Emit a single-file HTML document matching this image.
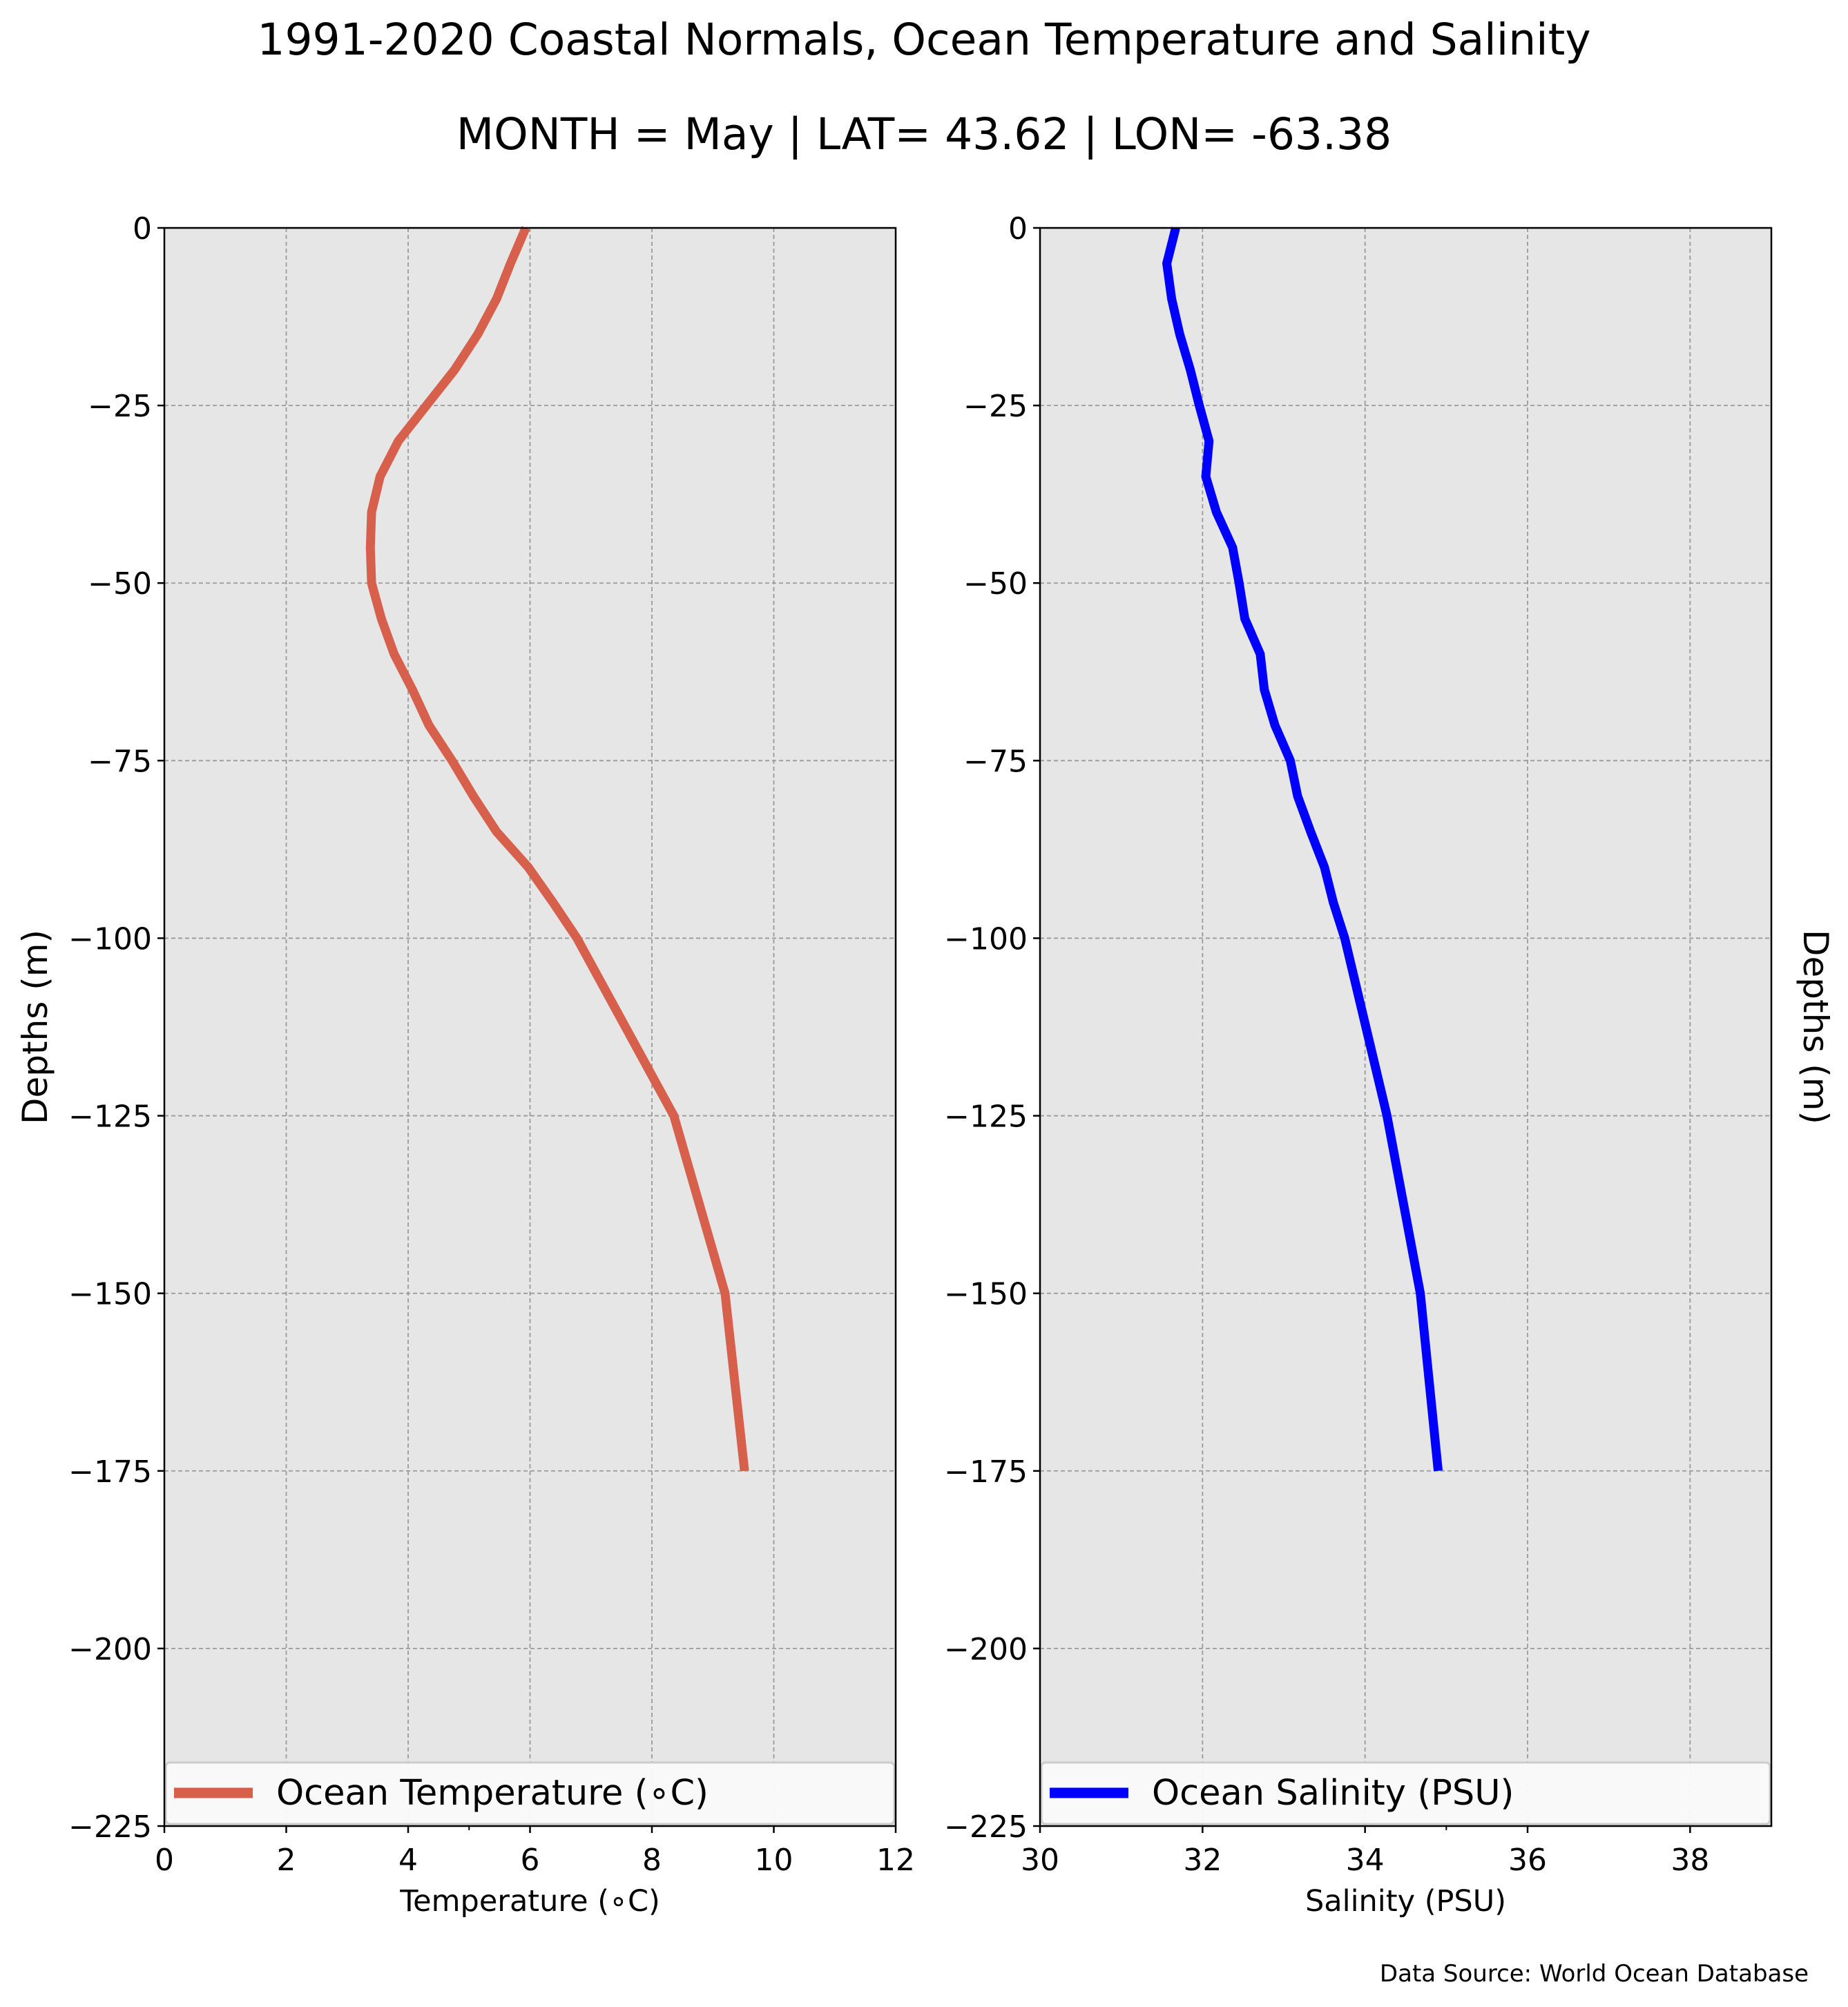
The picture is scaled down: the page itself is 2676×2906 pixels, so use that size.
<!DOCTYPE html>
<html><head><meta charset="utf-8"><style>
html,body{margin:0;padding:0;background:#fff}
svg text{font-family:"DejaVu Sans","Liberation Sans",sans-serif;fill:#000}
</style></head><body>
<svg id="fig" width="2676" height="2901" viewBox="0 0 2676 2901" xmlns="http://www.w3.org/2000/svg">
<text x="1338" y="79" text-anchor="middle" font-size="63">1991-2020 Coastal Normals, Ocean Temperature and Salinity</text>
<text x="1338" y="216" text-anchor="middle" font-size="63">MONTH = May | LAT= 43.62 | LON= -63.38</text>
<text x="2619" y="2869" text-anchor="end" font-size="34">Data Source: World Ocean Database</text>
<g id="g1"></g>
<g id="g2"></g>
</svg>
<script>
const depths=[0,-5,-10,-15,-20,-25,-30,-35,-40,-45,-50,-55,-60,-65,-70,-75,-80,-85,-90,-95,-100,-125,-150,-175];
const temperature=[5.93,5.68,5.45,5.14,4.76,4.3,3.84,3.54,3.4,3.38,3.4,3.56,3.77,4.07,4.34,4.72,5.07,5.45,5.97,6.38,6.77,8.36,9.2,9.52];
const salinity=[31.67,31.56,31.62,31.72,31.85,31.96,32.08,32.04,32.17,32.37,32.45,32.52,32.71,32.76,32.89,33.08,33.17,33.33,33.5,33.61,33.75,34.27,34.68,34.9];
const yTicks=[0,-25,-50,-75,-100,-125,-150,-175,-200,-225];
const tempTicks=[0,2,4,6,8,10,12];
const salTicks=[30,32,34,36,38];
const NS='http://www.w3.org/2000/svg';
function mk(p,tag,at,txt){const e=document.createElementNS(NS,tag);for(const k in at)e.setAttribute(k,at[k]);if(txt!==undefined)e.textContent=txt;p.appendChild(e);return e;}
function panel(g,L,R,xmin,xmax,xt,vals,color,xlabel,legend,ylabRight,minor){
 const T=330,B=2644;
 const sx=v=>L+(v-xmin)/(xmax-xmin)*(R-L);
 const sy=v=>T+(0-v)/225*(B-T);
 const bg=mk(g,'rect',{x:L,y:T,width:R-L,height:B-T,fill:'#e6e6e6'});
 
 
 xt.forEach(v=>{const l=mk(g,'line',{x1:sx(v),x2:sx(v),y1:T,y2:B,stroke:'#9a9a9a','stroke-width':1.8,'stroke-dasharray':'6,4'});
  });
 yTicks.forEach(v=>{const l=mk(g,'line',{x1:L,x2:R,y1:sy(v),y2:sy(v),stroke:'#9a9a9a','stroke-width':1.8,'stroke-dasharray':'6,4'});
  });
 const pts=depths.map((d,i)=>sx(vals[i])+','+sy(d)).join(' ');
 const pl=mk(g,'polyline',{points:pts,fill:'none',stroke:color,'stroke-width':13,'stroke-linejoin':'miter'});
 
 const lg=mk(g,'g',{});
 
 mk(lg,'rect',{x:L+2,y:2552,width:R-L-4,height:89,rx:6,fill:'#fafafa','fill-opacity':0.95,stroke:'#cccccc','stroke-width':3});
 mk(lg,'line',{x1:L+14,x2:L+128,y1:2596,y2:2596,stroke:color,'stroke-width':15});
 const lt=mk(lg,'text',{x:L+162,y:2613,'font-size':51},legend);
 
 mk(g,'rect',{x:L,y:T,width:R-L,height:B-T,fill:'none',stroke:'#000','stroke-width':2.5});
 xt.forEach(v=>{mk(g,'line',{x1:sx(v),x2:sx(v),y1:B,y2:B+10,stroke:'#000','stroke-width':2.5});
  const t=mk(g,'text',{x:sx(v),y:2708,'text-anchor':'middle','font-size':44},String(v));
  });
 mk(g,'line',{x1:sx(minor),x2:sx(minor),y1:B,y2:B+6,stroke:'#000','stroke-width':2});
 yTicks.forEach(v=>{mk(g,'line',{x1:L-10,x2:L,y1:sy(v),y2:sy(v),stroke:'#000','stroke-width':2.5});
  const t=mk(g,'text',{x:L-18,y:sy(v)+16,'text-anchor':'end','font-size':44},v<0?'\u2212'+(-v):String(v));
  });
 const xl=mk(g,'text',{x:(L+R)/2,y:2767,'text-anchor':'middle','font-size':43},xlabel);
 
 let yl;
 if(ylabRight){yl=mk(g,'text',{x:2612,y:1487,'text-anchor':'middle','font-size':50,transform:'rotate(90 2612 1487)'},'Depths (m)');}
 else{yl=mk(g,'text',{x:68,y:1487,'text-anchor':'middle','font-size':50,transform:'rotate(-90 68 1487)'},'Depths (m)');}
 
}
panel(document.getElementById('g1'),238,1297,0,12,tempTicks,temperature,'#d7604d','Temperature (\u2218C)','Ocean Temperature (\u2218C)',false,5);
panel(document.getElementById('g2'),1506,2565,30,39,salTicks,salinity,'#0000ff','Salinity (PSU)','Ocean Salinity (PSU)',true,35);
</script>
</body></html>
